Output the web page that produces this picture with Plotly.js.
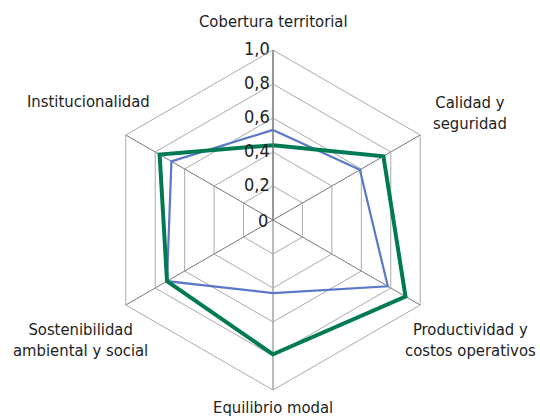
<!DOCTYPE html>
<html lang="es">
<head>
    <meta charset="UTF-8">
    <title>Radar</title>
    <style>
        body { margin: 0; background: #fff; }
        #chart { width: 540px; height: 418px; }
    </style>
</head>
<body>
<div id="chart"></div>
<script src="https://cdn.plot.ly/plotly-3.0.1.min.js"></script>
<script>
    // ejes del radar (en sentido horario desde arriba)
    var categorias = ['Cobertura territorial', 'Calidad y seguridad', 'Productividad y costos operativos',
                      'Equilibrio modal', 'Sostenibilidad ambiental y social', 'Institucionalidad'];
    var etiquetas = ['Cobertura territorial', 'Calidad y<br>seguridad', 'Productividad y<br>costos operativos',
                     'Equilibrio modal', 'Sostenibilidad<br>ambiental y social', 'Institucionalidad'];
    var serieAzul = [0.53, 0.59, 0.78, 0.43, 0.72, 0.69];
    var serieVerde = [0.44, 0.75, 0.90, 0.79, 0.72, 0.77];
    var radialVals = [0, 0.2, 0.4, 0.6, 0.8, 1.0];
    var radialText = ['0', '0,2', '0,4', '0,6', '0,8', '1,0'];

    var fuente = '"DejaVu Sans Condensed", "Liberation Sans Narrow", Arial, sans-serif';

    function cerrar(arr) { return arr.concat([arr[0]]); }

    var trazas = [
        {
            type: 'scatterpolar', mode: 'lines',
            r: cerrar(serieAzul), theta: cerrar(categorias),
            line: {color: '#5a78c8', width: 2.2},
            showlegend: false, hoverinfo: 'skip'
        },
        {
            type: 'scatterpolar', mode: 'lines',
            r: cerrar(serieVerde), theta: cerrar(categorias),
            line: {color: '#007a55', width: 4},
            showlegend: false, hoverinfo: 'skip'
        },
        // etiquetas del eje radial, a la izquierda del eje superior
        {
            type: 'scatterpolar', mode: 'text',
            r: radialVals.slice(1), theta: radialVals.slice(1).map(function () { return categorias[0]; }),
            text: radialText.slice(1).map(function (t) { return t + '\u2009'; }),
            textposition: 'middle left',
            textfont: {family: fuente, size: 18, color: '#222'},
            showlegend: false, hoverinfo: 'skip', cliponaxis: false
        }
    ];

    var dom = {x: [103 / 540, 443 / 540], y: [28 / 418, 368 / 418]};

    // posiciones de las etiquetas de cada eje
    var posEtiquetas = [
        {x: 273, y: 22}, {x: 470, y: 113}, {x: 470, y: 340},
        {x: 273, y: 407}, {x: 80, y: 340}, {x: 88, y: 101}
    ];
    var anotaciones = etiquetas.map(function (t, i) {
        return {
            text: t, xref: 'paper', yref: 'paper',
            x: posEtiquetas[i].x / 540, y: 1 - posEtiquetas[i].y / 418,
            xanchor: 'center', yanchor: 'middle', showarrow: false,
            font: {family: fuente, size: 16.5, color: '#222'}
        };
    });
    // el "0" en el centro del radar
    anotaciones.push({
        text: radialText[0], xref: 'paper', yref: 'paper',
        x: (dom.x[0] + dom.x[1]) / 2, y: (dom.y[0] + dom.y[1]) / 2,
        xanchor: 'right', yanchor: 'middle', xshift: -3, showarrow: false,
        font: {family: fuente, size: 18, color: '#222'}
    });

    var layout = {
        width: 540, height: 418,
        margin: {l: 0, r: 0, t: 0, b: 0},
        paper_bgcolor: '#fff',
        polar: {
            domain: dom,
            gridshape: 'linear',
            bgcolor: '#fff',
            radialaxis: {
                range: [0, 1], angle: 90,
                tickvals: radialVals,
                showticklabels: false,
                showline: true, linecolor: '#777', linewidth: 1,
                gridcolor: '#aaa', gridwidth: 1,
                ticks: ''
            },
            angularaxis: {
                direction: 'clockwise', rotation: 90,
                showticklabels: false, ticks: '',
                linecolor: '#aaa', linewidth: 1,
                gridcolor: '#777', gridwidth: 1
            }
        },
        annotations: anotaciones
    };

    Plotly.newPlot('chart', trazas, layout, {staticPlot: true});
</script>
</body>
</html>
